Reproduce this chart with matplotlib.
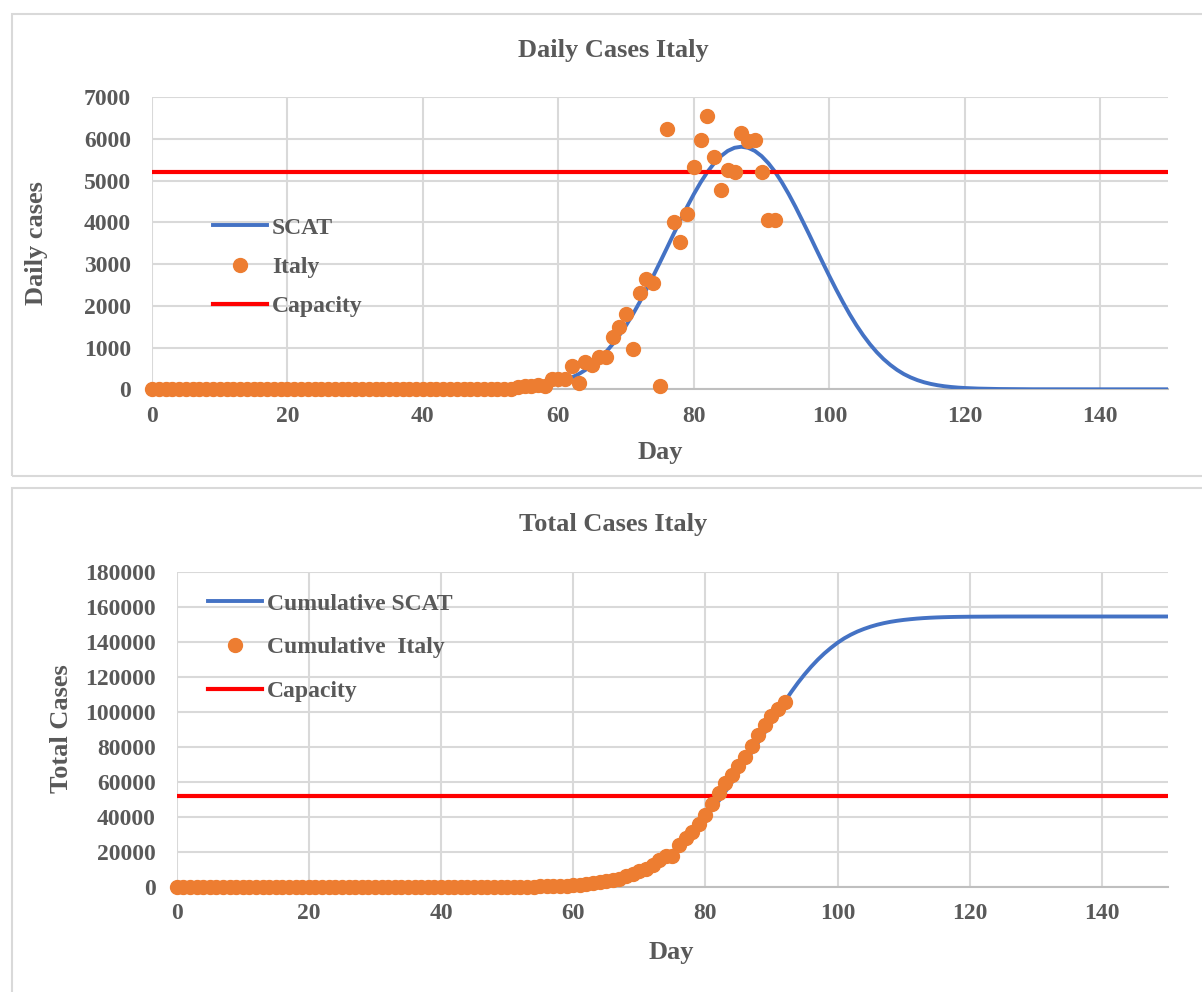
import numpy as np
import matplotlib
matplotlib.use("Agg")
import matplotlib.pyplot as plt
from matplotlib.patches import Rectangle

plt.rcParams['font.family'] = ['Liberation Serif', 'DejaVu Serif']
plt.rcParams['font.weight'] = 'bold'

# ---- data ----
# Italy daily cases, day 0..92
italy_daily = ([0] * 31 + [3] + [0] * 21 +
               [17, 62, 71, 79, 93, 78, 250, 238, 240, 561, 150, 663, 587, 769,
                778, 1247, 1492, 1797, 977, 2313, 2651, 2547, 90, 6230, 4000,
                3526, 4207, 5322, 5986, 6557, 5560, 4789, 5249, 5210, 6153,
                5959, 5974, 5217, 4050, 4053])
# Italy cumulative cases, day 0..92
italy_cum = ([0] * 31 + [3] * 22 +
             [20, 82, 153, 232, 325, 403, 653, 891, 1131, 1692, 1842, 2505,
              3092, 3861, 4639, 5886, 7378, 9175, 10152, 12465, 15116, 17663,
              17753, 23983, 27983, 31509, 35716, 41038, 47024, 53581, 59141,
              63930, 69179, 74389, 80542, 86501, 92475, 97692, 101742, 105795])

# SCAT model (daily)
scat_days = [0, 40, 45, 50, 52] + list(range(54, 121)) + [122, 125, 130, 140, 150]
scat_daily = [0, 0, 1, 7, 17,
              31, 41, 55, 73, 97, 128,                               # 54-59
              168, 220, 285, 365, 465, 585, 725, 890, 1080, 1295,    # 60-69
              1535, 1800, 2090, 2395, 2715, 3045, 3380, 3720, 4050, 4375,  # 70-79
              4680, 4960, 5210, 5420, 5590, 5715, 5790, 5815, 5790, 5715,  # 80-89
              5590, 5420, 5210, 4960, 4680, 4375, 4050, 3720, 3380, 3045,  # 90-99
              2715, 2395, 2090, 1800, 1535, 1295, 1080, 890, 725, 585,     # 100-109
              465, 365, 285, 220, 168, 128, 97, 73, 55, 41,                # 110-119
              31, 17, 7, 1, 0, 0]

# SCAT model (cumulative)
cum_days = ([0, 40, 50, 55, 60, 62, 64, 66, 68, 70, 72, 74, 76, 78, 80, 82, 84,
             86, 88, 90] + list(range(91, 119)) + [120, 125, 130, 150])
scat_cum = [0, 0, 100, 250, 900, 1500, 2400, 3700, 5600, 8400, 12100, 17000,
            23200, 30600, 39200, 48900, 59600, 70900, 82500, 93900,
            99900, 105800, 111300, 116500, 121300, 125700, 129700, 133300,
            136500, 139400, 141900, 144000, 145800, 147300, 148600, 149700,
            150600, 151350, 151950, 152450, 152850, 153200, 153480, 153700,
            153870, 154000, 154100, 154180,
            154280, 154380, 154400, 154400]

capacity_daily = 5200
capacity_total = 52000

days = np.arange(len(italy_daily))

# colours
c_scat = '#4472C4'
c_italy = '#ED7D31'
c_cap = '#FF0000'
c_text = '#595959'
c_grid = '#D9D9D9'

W, H = 1202, 992
fig = plt.figure(figsize=(W / 100, H / 100), dpi=100)

# chart frames
fig.patches.append(Rectangle((12 / W, 1 - 475.7 / H), 1.0, (475.7 - 14) / H,
                             transform=fig.transFigure, fill=False,
                             ec=c_grid, lw=1.5))
fig.patches.append(Rectangle((12 / W, -0.1), 1.0, 0.1 + 1 - 487.7 / H,
                             transform=fig.transFigure, fill=False,
                             ec=c_grid, lw=1.5))

ax1 = fig.add_axes([152 / W, 1 - 389.3 / H, (1168 - 152) / W, (389.3 - 97.3) / H])
ax2 = fig.add_axes([176.7 / W, 1 - 886.7 / H, (1168 - 176.7) / W, (886.7 - 571.7) / H])


def style(ax, ymax, ystep):
    ax.set_xlim(0, 150)
    ax.set_ylim(0, ymax)
    ax.set_xticks(range(0, 141, 20))
    ax.set_yticks(range(0, ymax + 1, ystep))
    ax.grid(True, color=c_grid, lw=1.5)
    ax.set_axisbelow(True)
    for s in ['top', 'right', 'left']:
        ax.spines[s].set_visible(False)
    ax.spines['bottom'].set_color('#BFBFBF')
    ax.spines['bottom'].set_linewidth(1.5)
    ax.tick_params(length=0, labelsize=17, labelcolor=c_text)
    ax.tick_params(axis='y', pad=15)
    ax.tick_params(axis='x', pad=12)


# ---- top: daily ----
ax1.plot(scat_days, scat_daily, color=c_scat, lw=2.8, label='SCAT', zorder=3)
ax1.plot(days, italy_daily, 'o', color=c_italy, ms=10, label='Italy',
         zorder=5, clip_on=False)
ax1.axhline(capacity_daily, color=c_cap, lw=3, label='Capacity', zorder=4)
style(ax1, 7000, 1000)
ax1.legend(loc='upper left', bbox_to_anchor=(213 / W, 1 - 217 / H),
           bbox_transform=fig.transFigure, frameon=False, borderpad=0,
           borderaxespad=0, handlelength=2.3, handletextpad=0.2,
           labelspacing=0.75, numpoints=1, labelcolor=c_text,
           prop={'size': 17, 'weight': 'bold'})

fig.text(613 / W, 1 - 50 / H, 'Daily Cases Italy', ha='center', va='center',
         fontsize=19, color=c_text)
fig.text(36 / W, 1 - 243 / H, 'Daily cases', ha='center', va='center',
         rotation=90, fontsize=19, color=c_text)
fig.text(660 / W, 1 - 453 / H, 'Day', ha='center', va='center',
         fontsize=19, color=c_text)

# ---- bottom: cumulative ----
ax2.plot(cum_days, scat_cum, color=c_scat, lw=2.8, label='Cumulative SCAT', zorder=3)
ax2.plot(days, italy_cum, 'o', color=c_italy, ms=10, label='Cumulative  Italy',
         zorder=5, clip_on=False)
ax2.axhline(capacity_total, color=c_cap, lw=3, label='Capacity', zorder=4)
style(ax2, 180000, 20000)
ax2.legend(loc='upper left', bbox_to_anchor=(208 / W, 1 - 593 / H),
           bbox_transform=fig.transFigure, frameon=False, borderpad=0,
           borderaxespad=0, handlelength=2.3, handletextpad=0.2,
           labelspacing=0.95, numpoints=1, labelcolor=c_text,
           prop={'size': 17, 'weight': 'bold'})

fig.text(613 / W, 1 - 524 / H, 'Total Cases Italy', ha='center', va='center',
         fontsize=19, color=c_text)
fig.text(62 / W, 1 - 729 / H, 'Total Cases', ha='center', va='center',
         rotation=90, fontsize=19, color=c_text)
fig.text(671 / W, 1 - 953 / H, 'Day', ha='center', va='center',
         fontsize=19, color=c_text)

fig.savefig('out.png', dpi=100, facecolor='white')
